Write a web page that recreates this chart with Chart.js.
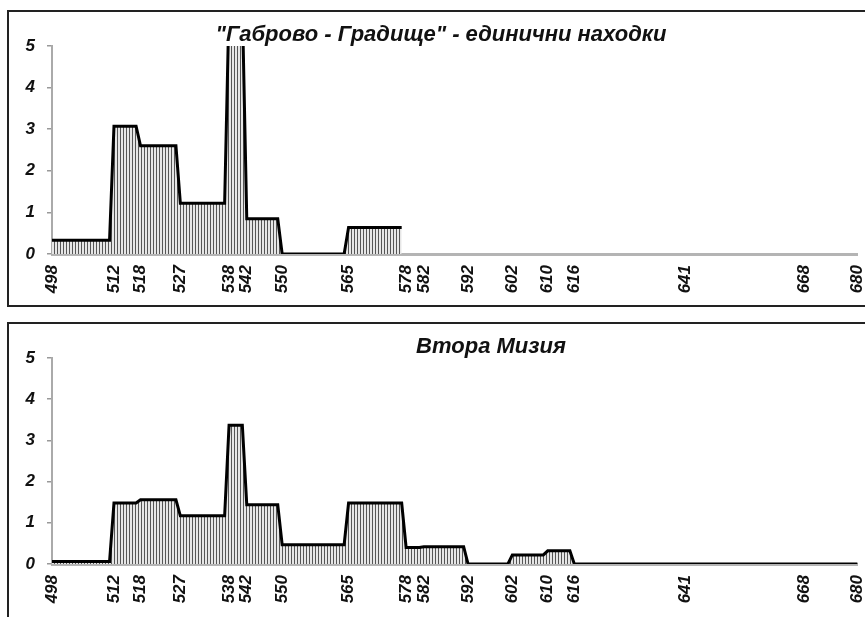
<!DOCTYPE html>
<html>
<head>
<meta charset="utf-8">
<script src="https://cdn.jsdelivr.net/npm/chart.js@4/dist/chart.umd.min.js"></script>
<style>
  html, body { margin: 0; padding: 0; background: #fff; overflow: hidden; width: 865px; height: 617px; }
  .panel { position: absolute; box-sizing: border-box; border: 2px solid #222; width: 900px; }
  #p1 { left: 7px; top: 10px; height: 297px; }
  #p2 { left: 7px; top: 322px; height: 400px; }
  canvas { position: absolute; }
  #c1 { left: 9px; top: 12px; }
  #c2 { left: 9px; top: 324px; }
</style>
</head>
<body>
<div class="panel" id="p1"></div>
<div class="panel" id="p2"></div>
<canvas id="c1" width="872" height="292"></canvas>
<canvas id="c2" width="872" height="293"></canvas>
<script>
// граници на периодите (години) = надписи по оста X
const periodBounds = [498, 512, 518, 527, 538, 542, 550, 565, 578, 582, 592, 602, 610, 616, 641, 668, 680];

// стойности за всеки период
const gabrovoValues = [0.33, 3.07, 2.6, 1.22, 6, 0.85, 0, 0.64, null, null, null, null, null, null, null, null];
const miziaValues   = [0.06, 1.48, 1.56, 1.17, 3.37, 1.44, 0.47, 1.48, 0.4, 0.42, 0, 0.22, 0.32, 0, 0, 0];

const yTicks = [0, 1, 2, 3, 4, 5];

const titles = {
  gabrovo: '"Габрово - Градище" - единични находки',
  mizia: 'Втора Мизия'
};

const FONT = "'Liberation Sans', Arial, sans-serif";

// стъпална линия: всеки период от началото до годината преди следващата граница
function stepPoints(values) {
  const pts = [];
  values.forEach((v, i) => {
    if (v === null) return;
    const last = i === values.length - 1;
    pts.push({ x: periodBounds[i], y: v });
    pts.push({ x: last ? periodBounds[i + 1] : periodBounds[i + 1] - 1, y: v });
  });
  return pts;
}

// вертикално щриховане
function hatch() {
  const c = document.createElement('canvas');
  c.width = 3; c.height = 8;
  const g = c.getContext('2d');
  g.fillStyle = '#e6e6e6';
  g.fillRect(0, 0, 3, 8);
  g.fillStyle = '#555';
  g.fillRect(0, 0, 1, 8);
  return g.createPattern(c, 'repeat');
}

const panelTitle = {
  id: 'panelTitle',
  afterDraw(chart, args, opts) {
    const ctx = chart.ctx;
    ctx.save();
    ctx.font = 'italic bold 22px ' + FONT;
    ctx.fillStyle = '#111';
    ctx.textAlign = 'center';
    ctx.textBaseline = 'middle';
    ctx.fillText(opts.text, opts.x, opts.y);
    ctx.restore();
  }
};

function makeChart(id, values, title, titleX, axisHeight) {
  const ctx = document.getElementById(id).getContext('2d');
  return new Chart(ctx, {
    type: 'line',
    data: {
      datasets: [{
        data: stepPoints(values),
        borderColor: '#000',
        borderWidth: 3,
        backgroundColor: hatch(),
        fill: 'origin',
        pointRadius: 0,
        tension: 0
      }]
    },
    options: {
      responsive: false,
      animation: false,
      layout: { padding: { top: 34, right: 8, left: 0, bottom: 0 } },
      plugins: {
        legend: { display: false },
        tooltip: { enabled: false },
        panelTitle: { text: title, x: titleX, y: 23 }
      },
      scales: {
        x: {
          type: 'linear',
          min: 498,
          max: 680,
          afterBuildTicks: axis => { axis.ticks = periodBounds.map(v => ({ value: v })); },
          afterFit: s => { s.height = axisHeight; },
          grid: { display: false },
          border: { display: true, color: '#b4b4b4', width: 3 },
          ticks: {
            autoSkip: false,
            minRotation: 90,
            maxRotation: 90,
            padding: 3,
            color: '#111',
            font: { family: FONT, size: 17, style: 'italic', weight: 'bold' }
          }
        },
        y: {
          min: 0,
          max: 5,
          afterBuildTicks: axis => { axis.ticks = yTicks.map(v => ({ value: v })); },
          afterFit: s => { s.width = 43; },
          grid: { drawOnChartArea: false, drawTicks: true, tickLength: 5, color: '#999', lineWidth: 1.5 },
          border: { display: true, color: '#aaa', width: 2 },
          ticks: {
            padding: 12,
            color: '#111',
            font: { family: FONT, size: 17, style: 'italic', weight: 'bold' }
          }
        }
      }
    },
    plugins: [panelTitle]
  });
}

makeChart('c1', gabrovoValues, titles.gabrovo, 432, 50);
makeChart('c2', miziaValues, titles.mizia, 482, 53);
</script>
</body>
</html>
